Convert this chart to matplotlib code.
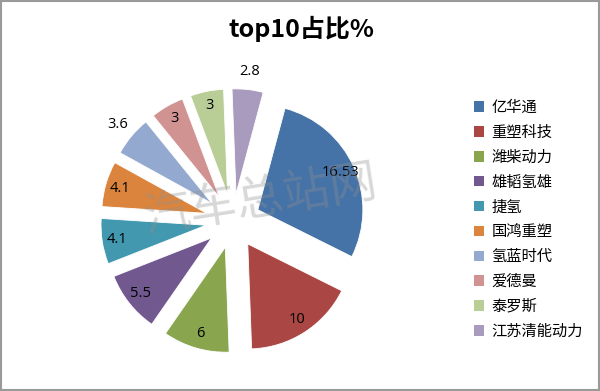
import numpy as np
import matplotlib
matplotlib.use("Agg")
import matplotlib.pyplot as plt
from matplotlib.patches import Patch, Rectangle

plt.rcParams['font.family'] = ['Noto Sans CJK SC', 'DejaVu Sans']

## DATA
companies = ['亿华通', '重塑科技', '潍柴动力', '雄韬氢雄', '捷氢',
             '国鸿重塑', '氢蓝时代', '爱德曼', '泰罗斯', '江苏清能动力']
shares = [16.53, 10, 6, 5.5, 4.1, 4.1, 3.6, 3, 3, 2.8]
share_labels = ['16.53', '10', '6', '5.5', '4.1', '4.1', '3.6', '3', '3', '2.8']
colors = ['#4572A7', '#AA4643', '#89A54E', '#71588F', '#4198AF',
          '#DB843D', '#93A9CF', '#D19392', '#B9CD96', '#A99BBD']
outside = [False, False, False, False, False, False, True, False, False, True]

fig = plt.figure(figsize=(6, 3.91), dpi=100, facecolor='w')
ax = fig.add_axes([0.1258, 0.032, 0.525, 0.8056])

wedges, _ = ax.pie(shares, colors=colors, startangle=75, counterclock=False,
                   explode=[0.26] * len(shares), radius=1.0,
                   wedgeprops={'edgecolor': 'w', 'linewidth': 0.6})
ax.set(xlim=[-1.5, 1.5], ylim=[-1.5, 1.5])
ax.set_aspect('equal')

## value labels
for w, lab, out in zip(wedges, share_labels, outside):
  tm = np.deg2rad((w.theta1 + w.theta2) / 2)
  d = 1.17 if out else 0.86
  cx, cy = w.center
  ax.text(cx + d * np.cos(tm), cy + d * np.sin(tm), lab,
          ha='center', va='center', fontsize=10.5, color='k',
          family=['Open Sans', 'DejaVu Sans'])

## watermark
fig.text(0.433, 0.488, '汽车总站网', fontsize=34, color='#909090', alpha=0.35,
         rotation=9, ha='center', va='center', fontweight='light')

fig.suptitle('top10占比%', x=0.503, y=0.96, fontsize=18, fontweight='bold')

handles = [Patch(facecolor=c, edgecolor='none') for c in colors]
fig.legend(handles, companies, loc='upper left', bbox_to_anchor=(0.767, 0.782),
           frameon=False, fontsize=11, labelspacing=0.515,
           handlelength=0.68, handleheight=0.68, handletextpad=0.45)

fig.patches.append(Rectangle((0.002, 0.003), 0.996, 0.994, transform=fig.transFigure,
                             fill=False, edgecolor='#9a9a9a', lw=1.5))

fig.savefig('out.png', dpi=100)
